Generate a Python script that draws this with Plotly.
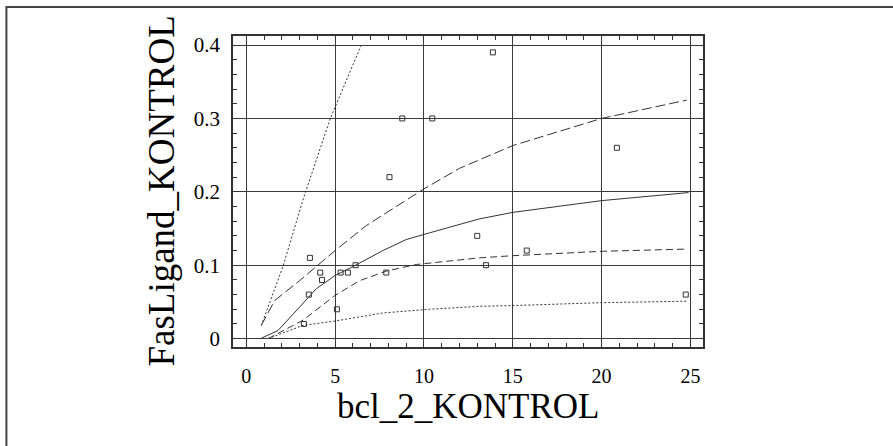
import plotly.graph_objects as go

# Observed data points
obs_x = [8.78, 10.47, 8.06, 13.88, 20.86, 13.0, 13.49, 15.79, 24.74,
         3.58, 4.16, 4.26, 3.52, 3.24, 5.10, 5.31, 5.72, 6.15, 7.88]
obs_y = [0.30, 0.30, 0.22, 0.39, 0.26, 0.14, 0.10, 0.12, 0.06,
         0.11, 0.09, 0.08, 0.06, 0.02, 0.04, 0.09, 0.09, 0.10, 0.09]

# Fitted curve (solid)
fit_x = [0.8, 1.78, 3.0, 3.94, 5.0, 6.15, 7.69, 9.0, 10.3, 13.1, 15.0, 20.0, 24.9]
fit_y = [0.0, 0.011, 0.043, 0.068, 0.086, 0.100, 0.120, 0.135, 0.144, 0.163, 0.172, 0.188, 0.199]

# Upper confidence band (long dash)
upc_x = [0.84, 1.6, 3.0, 5.0, 6.75, 9.0, 10.0, 12.0, 15.0, 20.0, 24.8]
upc_y = [0.018, 0.052, 0.079, 0.120, 0.154, 0.188, 0.204, 0.232, 0.263, 0.300, 0.325]

# Lower confidence band (medium dash)
loc_x = [1.22, 3.19, 5.0, 6.38, 7.88, 9.57, 13.1, 15.0, 20.0, 24.8]
loc_y = [0.0, 0.025, 0.059, 0.079, 0.092, 0.101, 0.110, 0.113, 0.119, 0.122]

# Upper prediction band (dotted, steep)
upp_x = [0.84, 2.06, 3.2, 4.73, 6.47]
upp_y = [0.018, 0.098, 0.19, 0.30, 0.40]

# Lower prediction band (dotted)
lop_x = [1.22, 3.19, 5.0, 7.69, 10.3, 13.1, 15.0, 20.0, 24.85]
lop_y = [0.0, 0.018, 0.024, 0.035, 0.040, 0.044, 0.045, 0.049, 0.051]

x_ticks = [0, 5, 10, 15, 20, 25]
y_ticks = [0, 0.1, 0.2, 0.3, 0.4]
x_title = "bcl_2_KONTROL"
y_title = "FasLigand_KONTROL"

LC = "#333333"
FONT = "'Liberation Serif', 'DejaVu Serif', 'Times New Roman', serif"

fig = go.Figure()

def add_line(x, y, dash):
    fig.add_trace(go.Scatter(x=x, y=y, mode="lines",
                             line=dict(color=LC, width=1, dash=dash),
                             hoverinfo="skip", showlegend=False))

add_line(upp_x, upp_y, "2px,2px")
add_line(lop_x, lop_y, "2px,2px")
add_line(upc_x, upc_y, "10px,4px")
add_line(loc_x, loc_y, "7px,4px")
add_line(fit_x, fit_y, "solid")

fig.add_trace(go.Scatter(x=obs_x, y=obs_y, mode="markers",
                         marker=dict(symbol="square-open", size=5,
                                     color=LC, line=dict(width=1, color=LC)),
                         showlegend=False))

fig.update_xaxes(range=[-0.75, 25.71], tickmode="array", tickvals=x_ticks,
                 ticktext=[str(v) for v in x_ticks],
                 showline=True, linecolor=LC, linewidth=1.5, mirror="ticks",
                 showgrid=True, gridcolor="#3a3a3a", gridwidth=1,
                 zeroline=False, ticks="inside", ticklen=4, tickcolor=LC,
                 tickfont=dict(family=FONT, size=20, color="black"),
                 minor=dict(ticks="inside", dtick=1, ticklen=4, tickcolor=LC, showgrid=False),
                 ticklabelstandoff=10)
fig.update_yaxes(range=[-0.0114, 0.4123], tickmode="array", tickvals=y_ticks,
                 ticktext=["0", "0.1", "0.2", "0.3", "0.4"],
                 showline=True, linecolor=LC, linewidth=1.5, mirror="ticks",
                 showgrid=True, gridcolor="#3a3a3a", gridwidth=1,
                 zeroline=False, ticks="inside", ticklen=4, tickcolor=LC,
                 tickfont=dict(family=FONT, size=21, color="black"),
                 minor=dict(ticks="inside", dtick=0.02, ticklen=4, tickcolor=LC, showgrid=False),
                 ticklabelstandoff=7)

fig.add_annotation(text=x_title, xref="paper", yref="paper", x=0.5, y=-0.19,
                   xanchor="center", yanchor="middle", showarrow=False,
                   font=dict(family=FONT, size=35, color="black"))
fig.add_annotation(text=y_title, xref="paper", yref="paper", x=-0.153, y=0.5,
                   xanchor="center", yanchor="middle", showarrow=False, textangle=-90,
                   font=dict(family=FONT, size=37, color="black"))

# outer frame of the figure (top and left edges visible)
fig.add_shape(type="rect", xref="paper", yref="paper",
              x0=-0.4821, y0=-3, x1=3, y1=1.0932,
              line=dict(color="#444444", width=2), layer="below")

fig.update_layout(width=893, height=446,
                  font=dict(family=FONT, color="black"),
                  margin=dict(l=233, r=190, t=36, b=99),
                  paper_bgcolor="white", plot_bgcolor="white")

fig.write_html("out.html")
